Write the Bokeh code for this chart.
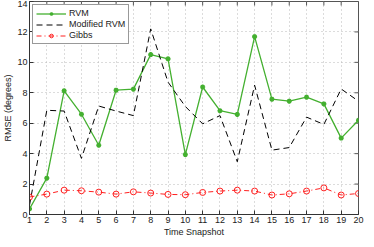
import math
from bokeh.plotting import figure
from bokeh.models import FixedTicker, Range1d, Legend, LegendItem
from bokeh.embed import file_html
from bokeh.resources import INLINE

snapshots = list(range(1, 21))
rvm = [0.37, 2.39, 8.13, 6.59, 4.55, 8.17, 8.24, 10.51, 10.23, 3.94,
       8.38, 6.82, 6.58, 11.69, 7.58, 7.45, 7.71, 7.27, 5.02, 6.19]
modified_rvm = [0.6, 6.85, 6.8, 3.69, 7.13, 6.8, 6.5, 12.2, 8.7, 7.1,
                5.96, 6.5, 3.47, 8.5, 4.23, 4.4, 6.4, 5.92, 8.25, 7.45]
gibbs = [1.15, 1.34, 1.6, 1.56, 1.47, 1.34, 1.49, 1.41, 1.32, 1.3,
         1.45, 1.54, 1.6, 1.54, 1.28, 1.36, 1.54, 1.75, 1.28, 1.38]
x_ticks = list(range(1, 21))
y_ticks = [0, 2, 4, 6, 8, 10, 12, 14]
x_min, x_max = 1, 20
y_min, y_max = 0, 14

FONT = "Liberation Sans"
GREEN = "#44b030"
RED = "#ff2020"

p = figure(width=366, height=239, output_backend="svg", toolbar_location=None,
           x_range=Range1d(x_min, x_max), y_range=Range1d(y_min, y_max),
           min_border_left=17, min_border_right=8, min_border_top=1, min_border_bottom=23)
p.background_fill_color = "white"
p.border_fill_color = "white"
p.outline_line_color = "#555555"
p.outline_line_width = 1

for ax in (p.xaxis[0], p.yaxis[0]):
    ax.major_tick_in = 4
    ax.major_tick_out = 0
    ax.minor_tick_line_color = None
    ax.axis_line_color = "#333333"
    ax.major_tick_line_color = "#333333"
    ax.major_label_text_font = FONT
    ax.major_label_text_font_size = "9px"
    ax.major_label_text_color = "#222222"
    ax.axis_label_text_font = FONT
    ax.axis_label_text_font_size = "9px"
    ax.axis_label_text_font_style = "normal"
    ax.axis_label_text_color = "#222222"
    ax.major_label_standoff = 2
    ax.axis_label_standoff = 1

p.xaxis[0].ticker = FixedTicker(ticks=x_ticks)
p.yaxis[0].ticker = FixedTicker(ticks=y_ticks)
p.xaxis[0].axis_label = "Time Snapshot"
p.yaxis[0].axis_label = "RMSE (degrees)"

p.xgrid.ticker = FixedTicker(ticks=x_ticks)
p.ygrid.ticker = FixedTicker(ticks=y_ticks)
for g in (p.xgrid[0], p.ygrid[0]):
    g.grid_line_color = "#b8b8b8"
    g.grid_line_dash = "1 3"
    g.grid_line_width = 1

# mirrored inward ticks on the top and right frame edges (half of each dash is clipped by the frame)
p.scatter(x_ticks, [y_max] * len(x_ticks), marker="dash", angle=math.pi / 2, size=8,
          line_color="#555555", line_width=1)
p.scatter([x_max] * len(y_ticks), y_ticks, marker="dash", size=8,
          line_color="#555555", line_width=1)

l1 = p.line(snapshots, rvm, line_color=GREEN, line_width=1.3)
m1 = p.scatter(snapshots, rvm, marker="asterisk", size=5, line_color=GREEN, line_width=1.6)
l2 = p.line(snapshots, modified_rvm, line_color="black", line_width=1, line_dash="6 4")
l3 = p.line(snapshots, gibbs, line_color=RED, line_width=1, line_dash="5 3 1 3")
m3 = p.scatter(snapshots, gibbs, marker="circle", size=6, fill_color="white", fill_alpha=0,
               line_color=RED, line_width=1)

legend = Legend(items=[LegendItem(label="RVM", renderers=[l1, m1]),
                       LegendItem(label="Modified RVM", renderers=[l2]),
                       LegendItem(label="Gibbs", renderers=[l3, m3])],
                location="top_left")
legend.label_text_font = FONT
legend.label_text_font_size = "9px"
legend.label_text_color = "#222222"
legend.border_line_color = "#333333"
legend.border_line_width = 1
legend.glyph_width = 30
legend.glyph_height = 9
legend.label_height = 9
legend.label_standoff = 3
legend.spacing = 1
legend.padding = 3
legend.margin = 3
legend.background_fill_alpha = 1
p.add_layout(legend, "center")

open("out.html", "w").write(file_html(p, INLINE))
